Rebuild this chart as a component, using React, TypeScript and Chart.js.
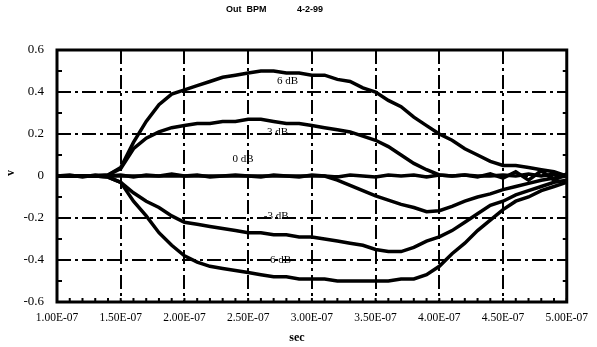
import { useEffect, useRef } from "react";
import { Chart, registerables } from "chart.js";
Chart.register(...registerables);

const times = [
  1.0e-7, 1.1e-7, 1.2e-7, 1.3e-7, 1.4e-7, 1.5e-7, 1.6e-7, 1.7e-7, 1.8e-7, 1.9e-7,
  2.0e-7, 2.1e-7, 2.2e-7, 2.3e-7, 2.4e-7, 2.5e-7, 2.6e-7, 2.7e-7, 2.8e-7, 2.9e-7,
  3.0e-7, 3.1e-7, 3.2e-7, 3.3e-7, 3.4e-7, 3.5e-7, 3.6e-7, 3.7e-7, 3.8e-7, 3.9e-7,
  4.0e-7, 4.1e-7, 4.2e-7, 4.3e-7, 4.4e-7, 4.5e-7, 4.6e-7, 4.7e-7, 4.8e-7, 4.9e-7,
  5.0e-7,
];

const plus6dB = [
  0, 0, 0, 0, 0.005, 0.04, 0.16, 0.26, 0.34, 0.39,
  0.41, 0.43, 0.45, 0.47, 0.48, 0.49, 0.5, 0.5, 0.49, 0.49,
  0.48, 0.48, 0.46, 0.45, 0.42, 0.4, 0.36, 0.33, 0.28, 0.24,
  0.2, 0.17, 0.13, 0.1, 0.07, 0.05, 0.05, 0.04, 0.03, 0.02,
  0.0,
];
const plus3dB = [
  0, 0, 0, 0, 0.005, 0.035, 0.13, 0.18, 0.21, 0.23,
  0.24, 0.25, 0.25, 0.26, 0.26, 0.27, 0.27, 0.26, 0.25, 0.25,
  0.24, 0.23, 0.22, 0.21, 0.19, 0.17, 0.14, 0.1, 0.06, 0.03,
  0.005, 0, 0.005, 0, 0, 0.005, 0, 0.01, 0, 0.01,
  0,
];
const zeroDB = [
  0, 0.005, -0.005, 0.005, 0, 0.005, -0.005, 0.005, 0, 0.01,
  0, 0.005, -0.005, 0, 0.005, 0, -0.005, 0.005, 0, -0.005,
  0.005, 0, -0.005, 0.005, 0, -0.005, 0.005, 0, 0.005, -0.005,
  0.005, 0, 0.005, -0.005, 0.01, -0.01, 0.02, -0.02, 0.025, -0.02,
  0.01,
];
const dipCurve = [
  0, 0, 0, 0, 0, 0, 0, 0, 0, 0,
  0, 0, 0, 0, 0, 0, 0, 0, 0, 0,
  0, 0, -0.02, -0.045, -0.07, -0.095, -0.115, -0.135, -0.15, -0.17,
  -0.165, -0.145, -0.12, -0.1, -0.085, -0.065, -0.05, -0.035, -0.02, -0.01,
  0,
];
const minus3dB = [
  0, 0, 0, 0, -0.005, -0.03, -0.08, -0.12, -0.15, -0.19,
  -0.22, -0.23, -0.24, -0.25, -0.26, -0.27, -0.27, -0.28, -0.28, -0.29,
  -0.29, -0.3, -0.31, -0.32, -0.33, -0.35, -0.36, -0.36, -0.34, -0.31,
  -0.29, -0.26, -0.22, -0.18, -0.14, -0.12, -0.09, -0.07, -0.05, -0.03,
  -0.02,
];
const minus6dB = [
  0, 0, 0, 0, -0.005, -0.03, -0.12, -0.19, -0.27, -0.33,
  -0.38, -0.41, -0.43, -0.44, -0.45, -0.46, -0.47, -0.48, -0.48, -0.49,
  -0.49, -0.49, -0.5, -0.5, -0.5, -0.5, -0.5, -0.49, -0.49, -0.47,
  -0.43, -0.37, -0.32, -0.26, -0.21, -0.16, -0.12, -0.1, -0.07, -0.05,
  -0.03,
];

const seriesList = [plus6dB, plus3dB, zeroDB, dipCurve, minus3dB, minus6dB];

const xTickValues = [1.0e-7, 1.5e-7, 2.0e-7, 2.5e-7, 3.0e-7, 3.5e-7, 4.0e-7, 4.5e-7, 5.0e-7];
const xTickLabels = ["1.00E-07", "1.50E-07", "2.00E-07", "2.50E-07", "3.00E-07", "3.50E-07", "4.00E-07", "4.50E-07", "5.00E-07"];
const yTickValues = [-0.6, -0.4, -0.2, 0, 0.2, 0.4, 0.6];
const yTickLabels = ["-0.6", "-0.4", "-0.2", "0", "0.2", "0.4", "0.6"];

const curveLabels = ["6 dB", "3 dB", "0 dB", "-3 dB", "-6 dB"];
const curveLabelX = [2.81e-7, 2.73e-7, 2.46e-7, 2.72e-7, 2.74e-7];
const curveLabelY = [0.45, 0.21, 0.08, -0.19, -0.4];

const SERIF = "'Liberation Serif', 'DejaVu Serif', serif";
const SANS = "'Liberation Sans', Arial, sans-serif";

const framePlugin = {
  id: "framePlugin",
  beforeDatasetsDraw(chart: any) {
    const { ctx, chartArea, scales } = chart;
    const { left, right, top, bottom } = chartArea;
    const x = scales.x;
    const y = scales.y;
    ctx.save();
    ctx.strokeStyle = "#000";
    ctx.lineWidth = 2;
    ctx.setLineDash([14, 4, 3, 4]);
    xTickValues.slice(1, -1).forEach((v) => {
      const px = Math.round(x.getPixelForValue(v));
      ctx.beginPath();
      ctx.moveTo(px, top);
      ctx.lineTo(px, bottom);
      ctx.stroke();
    });
    yTickValues.slice(1, -1).forEach((v) => {
      const py = Math.round(y.getPixelForValue(v));
      ctx.beginPath();
      ctx.moveTo(left, py);
      ctx.lineTo(right, py);
      ctx.stroke();
    });
    ctx.setLineDash([]);
    ctx.lineWidth = 2;
    for (let i = 0; i <= 40; i++) {
      const px = x.left + (i * (x.right - x.left)) / 40;
      ctx.beginPath();
      ctx.moveTo(px, bottom);
      ctx.lineTo(px, bottom - 4);
      ctx.stroke();
    }
    xTickValues.forEach((v) => {
      const px = Math.round(x.getPixelForValue(v));
      ctx.beginPath();
      ctx.moveTo(px, top);
      ctx.lineTo(px, top + 7);
      ctx.stroke();
    });
    for (let i = 0; i <= 12; i++) {
      const py = y.top + (i * (y.bottom - y.top)) / 12;
      ctx.beginPath();
      ctx.moveTo(left, py);
      ctx.lineTo(left + 5, py);
      ctx.stroke();
      ctx.beginPath();
      ctx.moveTo(right, py);
      ctx.lineTo(right - 4, py);
      ctx.stroke();
    }
    ctx.restore();
  },
  afterDatasetsDraw(chart: any) {
    const { ctx, chartArea, scales } = chart;
    const { left, right, top, bottom } = chartArea;
    ctx.save();
    ctx.strokeStyle = "#000";
    ctx.lineWidth = 3;
    ctx.strokeRect(left, top, right - left, bottom - top);
    ctx.fillStyle = "#000";
    ctx.font = `11px ${SERIF}`;
    ctx.textAlign = "center";
    ctx.textBaseline = "middle";
    curveLabels.forEach((t, i) => {
      ctx.fillText(t, scales.x.getPixelForValue(curveLabelX[i]), scales.y.getPixelForValue(curveLabelY[i]));
    });
    ctx.restore();
  },
  afterDraw(chart: any) {
    const { ctx } = chart;
    ctx.save();
    ctx.fillStyle = "#000";
    ctx.textBaseline = "middle";
    ctx.font = `bold 9px ${SANS}`;
    ctx.textAlign = "left";
    ctx.fillText("Out  BPM", 226, 10);
    ctx.fillText("4-2-99", 297, 10);
    ctx.font = `bold 12px ${SERIF}`;
    ctx.textAlign = "center";
    ctx.fillText("sec", 297, 338);
    ctx.translate(11, 173);
    ctx.rotate(-Math.PI / 2);
    ctx.fillText("v", 0, 0);
    ctx.restore();
  },
};

export default function App() {
  const ref = useRef<HTMLCanvasElement | null>(null);
  useEffect(() => {
    if (!ref.current) return;
    const chart = new Chart(ref.current, {
      type: "line",
      data: {
        datasets: seriesList.map((vals, i) => ({
          label: "s" + i,
          data: times.map((t, j) => ({ x: t, y: vals[j] })),
          borderColor: "#000",
          borderWidth: 3.5,
          pointRadius: 0,
          tension: 0,
          fill: false,
        })),
      },
      options: {
        animation: false,
        responsive: false,
        devicePixelRatio: 1,
        layout: { padding: { top: 50, right: 24, bottom: 0, left: 0 } },
        plugins: { legend: { display: false }, tooltip: { enabled: false }, title: { display: false } },
        scales: {
          x: {
            type: "linear",
            min: 1e-7,
            max: 5e-7,
            afterBuildTicks: (s: any) => {
              s.ticks = xTickValues.map((v) => ({ value: v }));
            },
            afterFit: (s: any) => {
              s.height = 45;
            },
            grid: { display: false, drawTicks: false },
            border: { display: false },
            ticks: {
              padding: 9,
              maxRotation: 0,
              autoSkip: false,
              color: "#000",
              font: { family: SERIF, size: 11.5 },
              callback: (_v: any, i: number) => xTickLabels[i],
            },
          },
          y: {
            type: "linear",
            min: -0.6,
            max: 0.6,
            afterBuildTicks: (s: any) => {
              s.ticks = yTickValues.map((v) => ({ value: v }));
            },
            afterFit: (s: any) => {
              s.width = 57;
            },
            grid: { display: false, drawTicks: false },
            border: { display: false },
            ticks: {
              padding: 13,
              color: "#000",
              font: { family: SERIF, size: 13 },
              callback: (_v: any, i: number) => yTickLabels[i],
            },
          },
        },
      },
      plugins: [framePlugin],
    } as any);
    return () => chart.destroy();
  }, []);
  return (
    <div style={{ position: "absolute", left: 0, top: 0, width: 597, height: 347, background: "#fff" }}>
      <canvas ref={ref} width={597} height={347} />
    </div>
  );
}
